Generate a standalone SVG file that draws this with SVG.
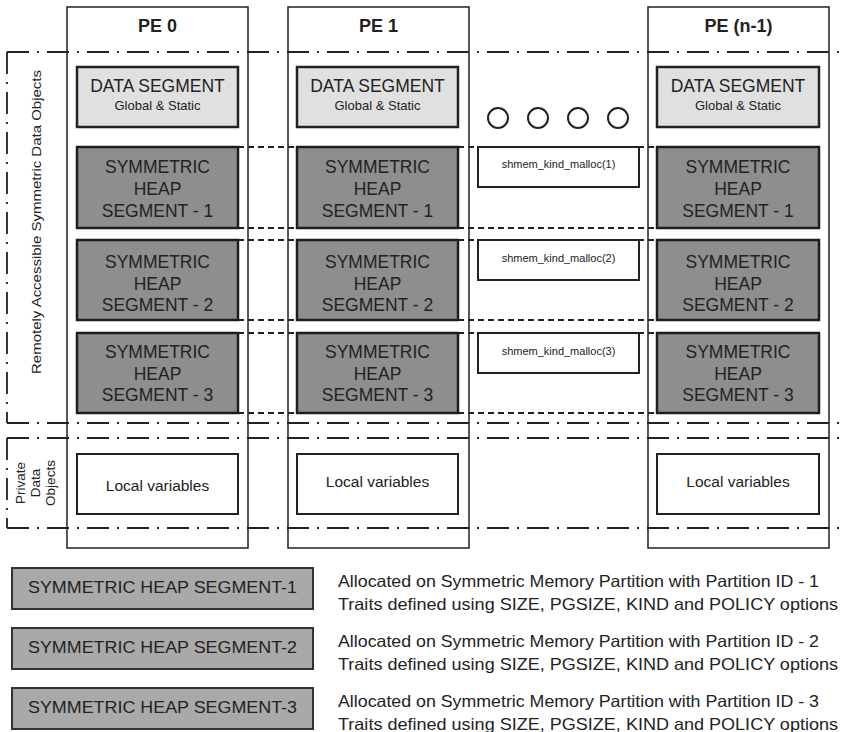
<svg xmlns="http://www.w3.org/2000/svg" width="846" height="732" viewBox="0 0 846 732">
  <style>
    text { font-family: "Liberation Sans", Arial, sans-serif; fill: #222; }
    .pe { fill: #fff; stroke: #222; stroke-width: 1.5; }
    .title { font-size: 18px; font-weight: bold; text-anchor: middle; }
    .data { fill: #e0e0e0; stroke: #222; stroke-width: 2.5; }
    .heap { fill: #8e8e8e; stroke: #1e1e1e; stroke-width: 2.5; }
    .local { fill: #fff; stroke: #222; stroke-width: 2; }
    .call { fill: #fff; stroke: #222; stroke-width: 2; }
    .legend { fill: #a9a9a9; stroke: #333; stroke-width: 2; }
    .big { font-size: 17.5px; text-anchor: middle; }
    .sub { font-size: 13px; text-anchor: middle; }
    .mid { font-size: 15.5px; text-anchor: middle; }
    .small { font-size: 11px; text-anchor: middle; }
    .side { font-size: 13.5px; text-anchor: middle; }
    .leg { font-size: 16.5px; }
    .region { fill: none; stroke: #222; stroke-width: 1.8; stroke-dasharray: 22 8 2 8; }
    .link { fill: none; stroke: #222; stroke-width: 2; stroke-dasharray: 6 4; }
    .dot { fill: #fff; stroke: #222; stroke-width: 2; }
  </style>

  <!-- PE columns -->
  <g id="pe0-column"><rect class="pe" x="67" y="7" width="181" height="541"/><text class="title" x="157.5" y="32">PE 0</text></g>
  <g id="pe1-column"><rect class="pe" x="288" y="7" width="181" height="541"/><text class="title" x="378.5" y="32">PE 1</text></g>
  <g id="pen-column"><rect class="pe" x="648" y="7" width="181" height="541"/><text class="title" x="738.5" y="32">PE (n-1)</text></g>

  <!-- region boundaries (dash-dot) -->
  <g id="regions">
    <path class="region" d="M7,52 H846"/>
    <path class="region" d="M7,52 V423"/>
    <path class="region" d="M7,423 H846"/>
    <path class="region" d="M7,438 H846"/>
    <path class="region" d="M7,438 V528"/>
    <path class="region" d="M7,528 H846"/>
    <text class="side" transform="translate(41,222) rotate(-90)" textLength="304" lengthAdjust="spacingAndGlyphs">Remotely Accessible Symmetric Data Objects</text>
    <text class="side" transform="translate(25,483) rotate(-90)">Private</text>
    <text class="side" transform="translate(40,483) rotate(-90)">Data</text>
    <text class="side" transform="translate(55,483) rotate(-90)">Objects</text>
  </g>

  <!-- connectors: dashed lines joining matching heap segments across PEs -->
  <g id="connectors">
    <path class="link" d="M238,147 H657 M238,228 H657"/>
    <path class="link" d="M238,240 H657 M238,320 H657"/>
    <path class="link" d="M238,333 H657 M238,413 H657"/>
  </g>

  <!-- data segments -->
  <g id="pe0-data"><rect class="data" x="77" y="67" width="161" height="60"/><text class="big" x="157.5" y="92">DATA SEGMENT</text><text class="sub" x="157.5" y="110">Global &amp; Static</text></g>
  <g id="pe1-data"><rect class="data" x="297" y="67" width="161" height="60"/><text class="big" x="377.5" y="92">DATA SEGMENT</text><text class="sub" x="377.5" y="110">Global &amp; Static</text></g>
  <g id="pen-data"><rect class="data" x="657" y="67" width="162" height="60"/><text class="big" x="738" y="92">DATA SEGMENT</text><text class="sub" x="738" y="110">Global &amp; Static</text></g>

  <!-- ellipsis -->
  <g id="ellipsis">
    <circle class="dot" cx="498" cy="118" r="10"/>
    <circle class="dot" cx="538" cy="118" r="10"/>
    <circle class="dot" cx="578" cy="118" r="10"/>
    <circle class="dot" cx="618" cy="118" r="10"/>
  </g>

  <!-- heap segment 1 -->
  <g id="pe0-heap1"><rect class="heap" x="77" y="147" width="161" height="81"/><text class="big" x="157.5" y="173">SYMMETRIC</text><text class="big" x="157.5" y="195">HEAP</text><text class="big" x="157.5" y="217">SEGMENT - 1</text></g>
  <g id="pe1-heap1"><rect class="heap" x="297" y="147" width="161" height="81"/><text class="big" x="377.5" y="173">SYMMETRIC</text><text class="big" x="377.5" y="195">HEAP</text><text class="big" x="377.5" y="217">SEGMENT - 1</text></g>
  <g id="pen-heap1"><rect class="heap" x="657" y="147" width="162" height="81"/><text class="big" x="738" y="173">SYMMETRIC</text><text class="big" x="738" y="195">HEAP</text><text class="big" x="738" y="217">SEGMENT - 1</text></g>
  <g id="malloc1"><rect class="call" x="478" y="147" width="161" height="40"/><text class="small" x="558.5" y="168">shmem_kind_malloc(1)</text></g>

  <!-- heap segment 2 -->
  <g id="pe0-heap2"><rect class="heap" x="77" y="240" width="161" height="80"/><text class="big" x="157.5" y="268">SYMMETRIC</text><text class="big" x="157.5" y="290">HEAP</text><text class="big" x="157.5" y="311">SEGMENT - 2</text></g>
  <g id="pe1-heap2"><rect class="heap" x="297" y="240" width="161" height="80"/><text class="big" x="377.5" y="268">SYMMETRIC</text><text class="big" x="377.5" y="290">HEAP</text><text class="big" x="377.5" y="311">SEGMENT - 2</text></g>
  <g id="pen-heap2"><rect class="heap" x="657" y="240" width="162" height="80"/><text class="big" x="738" y="268">SYMMETRIC</text><text class="big" x="738" y="290">HEAP</text><text class="big" x="738" y="311">SEGMENT - 2</text></g>
  <g id="malloc2"><rect class="call" x="478" y="240" width="161" height="40"/><text class="small" x="558.5" y="262">shmem_kind_malloc(2)</text></g>

  <!-- heap segment 3 -->
  <g id="pe0-heap3"><rect class="heap" x="77" y="333" width="161" height="80"/><text class="big" x="157.5" y="358">SYMMETRIC</text><text class="big" x="157.5" y="380">HEAP</text><text class="big" x="157.5" y="401">SEGMENT - 3</text></g>
  <g id="pe1-heap3"><rect class="heap" x="297" y="333" width="161" height="80"/><text class="big" x="377.5" y="358">SYMMETRIC</text><text class="big" x="377.5" y="380">HEAP</text><text class="big" x="377.5" y="401">SEGMENT - 3</text></g>
  <g id="pen-heap3"><rect class="heap" x="657" y="333" width="162" height="80"/><text class="big" x="738" y="358">SYMMETRIC</text><text class="big" x="738" y="380">HEAP</text><text class="big" x="738" y="401">SEGMENT - 3</text></g>
  <g id="malloc3"><rect class="call" x="478" y="333" width="161" height="40"/><text class="small" x="558.5" y="355">shmem_kind_malloc(3)</text></g>

  <!-- private data -->
  <g id="pe0-local"><rect class="local" x="77" y="454" width="161" height="60"/><text class="mid" x="157.5" y="491">Local variables</text></g>
  <g id="pe1-local"><rect class="local" x="297" y="454" width="161" height="60"/><text class="mid" x="377.5" y="487">Local variables</text></g>
  <g id="pen-local"><rect class="local" x="657" y="454" width="162" height="60"/><text class="mid" x="738" y="487">Local variables</text></g>

  <!-- legend -->
  <g id="legend1">
    <rect class="legend" x="12" y="568" width="301" height="41"/>
    <text class="leg" x="162.5" y="593" text-anchor="middle" textLength="269" lengthAdjust="spacingAndGlyphs">SYMMETRIC HEAP SEGMENT-1</text>
    <text class="leg" x="338" y="587" textLength="481" lengthAdjust="spacingAndGlyphs">Allocated on Symmetric Memory Partition with Partition ID - 1</text>
    <text class="leg" x="338" y="610" textLength="500" lengthAdjust="spacingAndGlyphs">Traits defined using SIZE, PGSIZE, KIND and POLICY options</text>
  </g>
  <g id="legend2">
    <rect class="legend" x="12" y="628" width="301" height="41"/>
    <text class="leg" x="162.5" y="653" text-anchor="middle" textLength="269" lengthAdjust="spacingAndGlyphs">SYMMETRIC HEAP SEGMENT-2</text>
    <text class="leg" x="338" y="647" textLength="481" lengthAdjust="spacingAndGlyphs">Allocated on Symmetric Memory Partition with Partition ID - 2</text>
    <text class="leg" x="338" y="670" textLength="500" lengthAdjust="spacingAndGlyphs">Traits defined using SIZE, PGSIZE, KIND and POLICY options</text>
  </g>
  <g id="legend3">
    <rect class="legend" x="12" y="688" width="301" height="41"/>
    <text class="leg" x="162.5" y="713" text-anchor="middle" textLength="269" lengthAdjust="spacingAndGlyphs">SYMMETRIC HEAP SEGMENT-3</text>
    <text class="leg" x="338" y="707" textLength="481" lengthAdjust="spacingAndGlyphs">Allocated on Symmetric Memory Partition with Partition ID - 3</text>
    <text class="leg" x="338" y="730" textLength="500" lengthAdjust="spacingAndGlyphs">Traits defined using SIZE, PGSIZE, KIND and POLICY options</text>
  </g>
</svg>
